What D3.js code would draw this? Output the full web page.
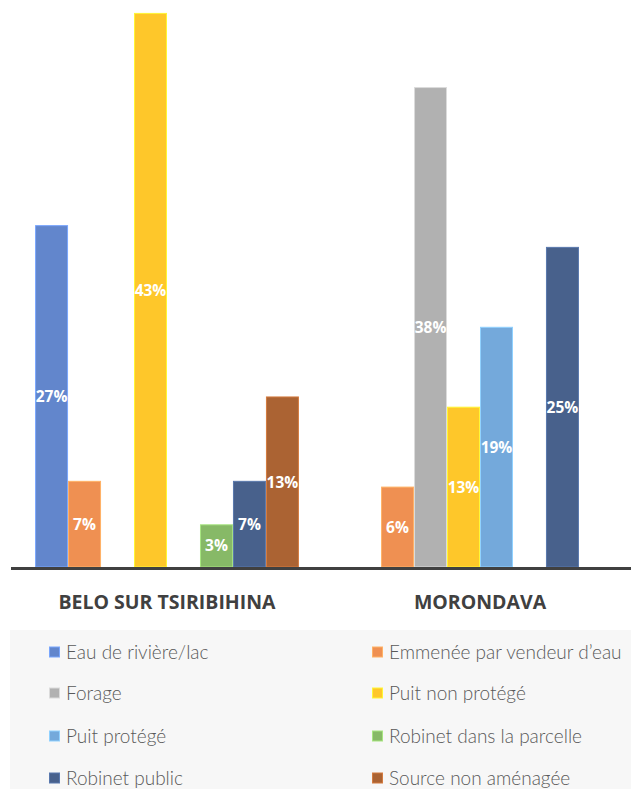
<!DOCTYPE html>
<html><head><meta charset="utf-8">
<script src="https://cdn.jsdelivr.net/npm/d3@7"></script>
<style>body{margin:0;background:#fff}svg{display:block}</style>
</head><body>
<svg id="chart" width="631" height="789"></svg>
<script>
const categories = ["BELO SUR TSIRIBIHINA", "MORONDAVA"];
const seriesNames = ["Eau de rivière/lac", "Emmenée par vendeur d’eau", "Forage", "Puit non protégé",
  "Puit protégé", "Robinet dans la parcelle", "Robinet public", "Source non aménagée"];
const seriesColors = ["#6286cc", "#ef9052", "#b1b1b1", "#fec72a", "#74a9db", "#87b967", "#48618c", "#ab6333"];
const beloValues = [26.7, 6.7, 0, 43.3, 0, 3.3, 6.7, 13.3];
const morondavaValues = [0, 6.25, 37.5, 12.5, 18.75, 0, 25, 0];
const labelsBelo = ["27%", "7%", "", "43%", "", "3%", "7%", "13%"];
const labelsMorondava = ["", "6%", "38%", "13%", "19%", "", "25%", ""];

const W = 631, H = 789;
const svg = d3.select("#chart");
const baseY = 567, pxPerUnit = 12.785, yMax = 45;

const table = categories.map((c, i) => ({
  cat: c,
  vals: seriesNames.map((s, j) => ({
    s, j,
    v: (i === 0 ? beloValues : morondavaValues)[j],
    lab: (i === 0 ? labelsBelo : labelsMorondava)[j]
  }))
}));

const x0 = d3.scaleBand().domain(categories).range([10.5, 636.5]).paddingInner(0.157).paddingOuter(0.0785);
const x1 = d3.scaleBand().domain(seriesNames).range([0, x0.bandwidth()]);
const y = d3.scaleLinear().domain([0, yMax]).range([baseY, baseY - yMax * pxPerUnit]);
const color = d3.scaleOrdinal().domain(seriesNames).range(seriesColors);

const groups = svg.selectAll("g.grp").data(table).join("g")
  .attr("class", "grp").attr("transform", d => `translate(${x0(d.cat)},0)`);

groups.selectAll("rect").data(d => d.vals.filter(v => v.v > 0)).join("rect")
  .attr("x", d => x1(d.s) + 0.5)
  .attr("y", d => y(d.v))
  .attr("width", x1.bandwidth() - 1)
  .attr("height", d => y(0) - y(d.v))
  .attr("fill", d => color(d.s))
  .attr("stroke", d => d3.color(color(d.s)).brighter(0.6))
  .attr("stroke-width", 1);

groups.selectAll("text.lab").data(d => d.vals.filter(v => v.v > 0)).join("text")
  .attr("class", "lab")
  .attr("x", d => x1(d.s) + x1.bandwidth() / 2)
  .attr("y", d => (y(d.v) + y(0)) / 2)
  .attr("dy", "0.36em")
  .attr("text-anchor", "middle")
  .attr("fill", "#fff")
  .style("font-family", "'Open Sans', sans-serif")
  .style("font-weight", "700")
  .style("font-size", "15.5px")
  .text(d => d.lab);

// axis
const xAxis = d3.axisBottom(x0).tickSize(0).tickPadding(0);
const axisG = svg.append("g").attr("transform", `translate(0,${baseY + 1.5})`).call(xAxis);
axisG.select(".domain").attr("d", `M11,0H${W}`).attr("stroke", "#404040").attr("stroke-width", 3);
axisG.selectAll(".tick text")
  .attr("y", 33).attr("dy", "0.36em")
  .attr("fill", "#404040")
  .style("font-family", "'Open Sans', sans-serif")
  .style("font-weight", "700")
  .style("font-size", "19.5px");

// legend
svg.append("rect").attr("x", 10).attr("y", 630).attr("width", W - 10).attr("height", H - 630).attr("fill", "#f7f7f7");
const legCols = [49, 372];
const legRows = [652, 693, 736, 778];
const leg = svg.selectAll("g.leg").data(seriesNames).join("g").attr("class", "leg")
  .attr("transform", (d, i) => `translate(${legCols[i % 2]},${legRows[Math.floor(i / 2)]})`);
leg.append("rect").attr("x", 0.5).attr("y", -5).attr("width", 10).attr("height", 10)
  .attr("fill", d => color(d)).attr("stroke", d => d3.color(color(d)).brighter(0.6)).attr("stroke-width", 1);
leg.append("text").attr("x", 17).attr("dy", "0.36em")
  .attr("fill", "#595959")
  .style("font-family", "Lato, sans-serif")
  .style("font-weight", "300")
  .style("font-size", "19px")
  .text(d => d);
</script>
</body></html>
